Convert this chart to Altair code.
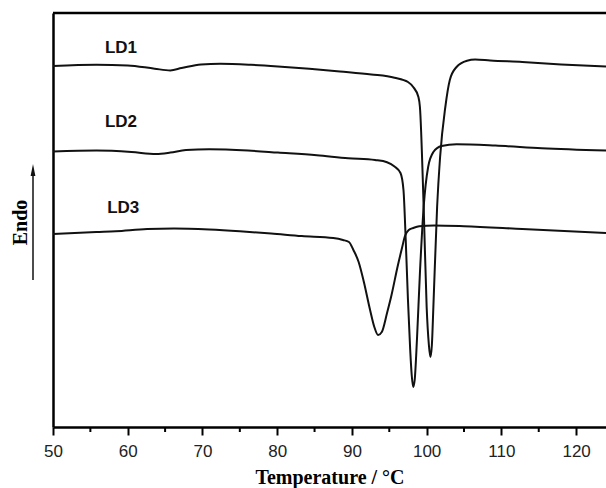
import altair as alt
import pandas as pd

# ---- data (temperature in °C, heat flow in arbitrary units) ----
ld1_t = [50.0, 55.8, 60.0, 63.6, 65.7, 67.2, 69.8, 72.4, 76.5, 80.1, 84.3, 88.4, 92.6, 95.7, 97.5, 98.2,
         98.9, 99.1, 99.6, 100.0, 100.3, 100.5, 100.7, 100.9, 101.4, 101.8, 102.5, 103.1, 104.0, 105.4,
         106.5, 108.5, 112.8, 118.0, 124.0]
ld1_v = [36.09, 36.22, 36.16, 35.83, 35.66, 35.89, 36.26, 36.32, 36.22, 36.06, 35.83, 35.56, 35.26, 34.93,
         34.50, 34.00, 33.00, 32.00, 22.00, 12.00, 8.20, 7.00, 8.20, 12.00, 22.00, 27.00, 32.00, 34.70,
         36.00, 36.63, 36.75, 36.65, 36.50, 36.26, 36.06]

ld2_t = [50.0, 55.8, 60.5, 63.8, 65.7, 67.8, 70.9, 76.1, 80.1, 85.3, 89.5, 93.1, 94.7, 95.7, 96.5, 96.9,
         97.2, 97.5, 97.8, 98.0, 98.2, 98.4, 98.7, 99.1, 99.6, 100.2, 100.9, 102.0, 104.0, 109.2, 115.4, 124.0]
ld2_v = [27.54, 27.64, 27.50, 27.30, 27.44, 27.70, 27.77, 27.64, 27.44, 27.17, 26.88, 26.70, 26.48, 26.05,
         25.40, 23.70, 18.70, 12.70, 7.70, 5.20, 4.00, 4.70, 8.70, 15.40, 22.00, 26.00, 27.50, 28.10,
         28.27, 28.14, 27.87, 27.64]

ld3_t = [50.0, 55.8, 58.4, 62.6, 66.2, 70.9, 75.0, 79.2, 83.3, 87.5, 88.8, 89.6, 90.2, 90.9, 91.6, 92.4,
         93.0, 93.5, 94.0, 94.7, 95.3, 96.1, 96.7, 97.1, 97.6, 98.2, 99.0, 101.0, 105.0, 112.8, 124.0]
ld3_v = [19.30, 19.50, 19.58, 19.80, 19.85, 19.75, 19.58, 19.35, 19.09, 18.89, 18.70, 18.50, 17.70, 16.50,
         14.50, 11.80, 10.00, 9.20, 9.50, 11.40, 13.20, 16.00, 17.90, 19.10, 19.70, 19.90, 20.08, 20.15,
         20.08, 19.80, 19.40]

series_names = ["LD1", "LD2", "LD3"]
label_t = [59.1, 59.1, 59.4]
label_v = [37.9, 30.5, 21.9]

major_ticks = [50, 60, 70, 80, 90, 100, 110, 120]
minor_ticks = [55, 65, 75, 85, 95, 105, 115]
x_domain = [50, 124]
y_domain = [0, 41.4]

# ---- tables ----
rows = []
for name, ts, vs in zip(series_names, [ld1_t, ld2_t, ld3_t], [ld1_v, ld2_v, ld3_v]):
    for t, v in zip(ts, vs):
        rows.append({"series": name, "T": t, "v": v})
df = pd.DataFrame(rows)
lab = pd.DataFrame({"series": series_names, "T": label_t, "v": label_v})
minor_df = pd.DataFrame({"T": minor_ticks})

W, H = 553, 414

x_scale = alt.Scale(domain=x_domain, nice=False, zero=False)
y_scale = alt.Scale(domain=y_domain, nice=False, zero=False)

x_axis = alt.Axis(
    title="Temperature / °C",
    values=major_ticks,
    tickSize=8,
    tickWidth=2,
    tickColor="#000000",
    domainColor="#000000",
    domainWidth=2.5,
    grid=False,
    labelFont="Liberation Sans",
    labelFontSize=17,
    labelColor="#222222",
    labelPadding=8,
    labelFlush=False,
    labelOverlap=False,
    titleFont="Liberation Serif",
    titleFontSize=20,
    titleFontWeight="bold",
    titleColor="#000000",
    titleX=W / 2,
    titleY=56,
    titleBaseline="alphabetic",
    titleAlign="center",
)

y_axis = alt.Axis(
    title="Endo",
    ticks=False,
    labels=False,
    grid=False,
    domainColor="#000000",
    domainWidth=2.5,
    titleFont="Liberation Serif",
    titleFontSize=20,
    titleFontWeight="bold",
    titleColor="#000000",
    titleAngle=270,
    titleX=-33,
    titleY=209,
    titleBaseline="middle",
    titleAlign="center",
)

lines = alt.Chart(df).mark_line(color="#111111", strokeWidth=2, interpolate="monotone").encode(
    x=alt.X("T:Q", scale=x_scale, axis=x_axis),
    y=alt.Y("v:Q", scale=y_scale, axis=y_axis),
    detail="series:N",
)

minor = alt.Chart(minor_df).mark_rule(color="#000000", strokeWidth=2).encode(
    x=alt.X("T:Q", scale=x_scale),
    y=alt.value(H),
    y2=alt.value(H + 5),
)

labels = alt.Chart(lab).mark_text(
    font="Liberation Sans", fontSize=17, fontWeight="bold", color="#111111", baseline="middle", align="center"
).encode(
    x=alt.X("T:Q", scale=x_scale),
    y=alt.Y("v:Q", scale=y_scale),
    text="series:N",
)

dummy = alt.Data(values=[{}])
top_rule = alt.Chart(dummy).mark_rule(color="#000000", strokeWidth=2.5).encode(
    x=alt.value(0), x2=alt.value(W), y=alt.value(0)
)
arrow_line = alt.Chart(dummy).mark_rule(color="#111111", strokeWidth=1.5).encode(
    x=alt.value(-20), y=alt.value(160), y2=alt.value(267)
)
arrow_head = alt.Chart(dummy).mark_point(
    shape="M0,-1L0.4,1L-0.4,1Z", filled=True, color="#111111", opacity=1, size=144, strokeWidth=0
).encode(x=alt.value(-20), y=alt.value(157))

chart = alt.layer(lines, minor, labels, top_rule, arrow_line, arrow_head).properties(
    width=W,
    height=H,
    padding={"left": 53, "top": 13, "right": 0, "bottom": 61},
    autosize=alt.AutoSizeParams(type="none"),
    background="#ffffff",
).configure_view(stroke=None)

chart.save("out.html", embed_options={"renderer": "svg", "actions": False})
